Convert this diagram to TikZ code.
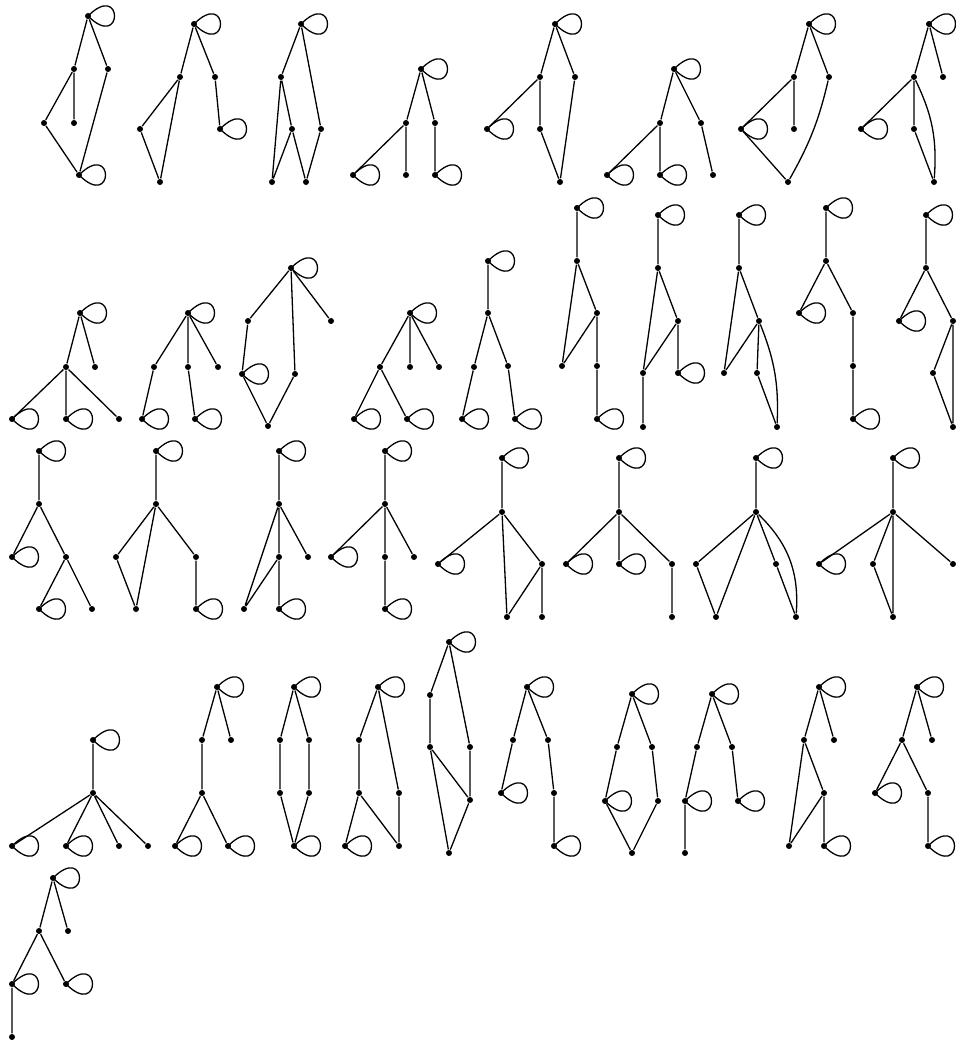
\documentclass[tikz,border=0pt]{standalone}
\begin{document}
\begin{tikzpicture}[x=1pt,y=-1pt,
  dot/.style={circle,fill=black,inner sep=0pt,minimum size=6pt},
  every path/.style={line width=1.3pt}]
\useasboundingbox (0,0) rectangle (956,1042);
\newcommand{\lop}[1]{\draw (#1.center) .. controls +(45:50) and +(-45:50) .. (#1.center);}
% ---- Graph 1
\node[dot] (a1) at (88,16) {}; \node[dot] (b1) at (74,69) {}; \node[dot] (c1) at (108,69) {};
\node[dot] (d1) at (44,123) {}; \node[dot] (e1) at (74,123) {}; \node[dot] (f1) at (79,175) {};
\draw (a1)--(b1) (a1)--(c1) (b1)--(d1) (b1)--(e1) (d1)--(f1) (c1)--(f1);
\lop{a1}\lop{f1}
% ---- Graph 2
\node[dot] (a2) at (194,24) {}; \node[dot] (b2) at (180,77) {}; \node[dot] (c2) at (215,77) {};
\node[dot] (d2) at (140,129) {}; \node[dot] (e2) at (220,129) {}; \node[dot] (f2) at (160,182) {};
\draw (a2)--(b2) (a2)--(c2) (b2)--(d2) (b2)--(f2) (d2)--(f2) (c2)--(e2);
\lop{a2}\lop{e2}
% ---- Graph 3
\node[dot] (a3) at (301,24) {}; \node[dot] (b3) at (281,77) {}; \node[dot] (c3) at (292,129) {};
\node[dot] (d3) at (321,129) {}; \node[dot] (e3) at (272,182) {}; \node[dot] (f3) at (306,182) {};
\draw (a3)--(b3) (a3)--(d3) (b3)--(e3) (b3)--(c3) (c3)--(e3) (c3)--(f3) (d3)--(f3);
\lop{a3}
% ---- Graph 4
\node[dot] (a4) at (421,69) {}; \node[dot] (b4) at (406,123) {}; \node[dot] (c4) at (435,123) {};
\node[dot] (d4) at (353,175) {}; \node[dot] (e4) at (406,175) {}; \node[dot] (f4) at (435,175) {};
\draw (a4)--(b4) (a4)--(c4) (b4)--(d4) (b4)--(e4) (c4)--(f4);
\lop{a4}\lop{d4}\lop{f4}
% ---- Graph 5
\node[dot] (a5) at (555,24) {}; \node[dot] (b5) at (540,77) {}; \node[dot] (c5) at (575,77) {};
\node[dot] (d5) at (487,129) {}; \node[dot] (e5) at (540,129) {}; \node[dot] (f5) at (560,182) {};
\draw (a5)--(b5) (a5)--(c5) (b5)--(d5) (b5)--(e5) (e5)--(f5) (c5)--(f5);
\lop{a5}\lop{d5}
% ---- Graph 6
\node[dot] (a6) at (674,69) {}; \node[dot] (b6) at (660,123) {}; \node[dot] (c6) at (701,123) {};
\node[dot] (d6) at (607,175) {}; \node[dot] (e6) at (660,175) {}; \node[dot] (f6) at (713,175) {};
\draw (a6)--(b6) (a6)--(c6) (b6)--(d6) (b6)--(e6) (c6)--(f6);
\lop{a6}\lop{d6}\lop{e6}
% ---- Graph 7
\node[dot] (a7) at (809,24) {}; \node[dot] (b7) at (794,77) {}; \node[dot] (c7) at (829,77) {};
\node[dot] (d7) at (741,129) {}; \node[dot] (e7) at (794,129) {}; \node[dot] (f7) at (788,182) {};
\draw (a7)--(b7) (a7)--(c7) (b7)--(d7) (b7)--(e7) (d7)--(f7);
\draw (c7) to[bend left=8] (f7);
\lop{a7}\lop{d7}
% ---- Graph 8
\node[dot] (a8) at (929,24) {}; \node[dot] (b8) at (914,77) {}; \node[dot] (c8) at (943,77) {};
\node[dot] (d8) at (861,129) {}; \node[dot] (e8) at (914,129) {}; \node[dot] (f8) at (934,182) {};
\draw (a8)--(b8) (a8)--(c8) (b8)--(d8) (b8)--(e8) (e8)--(f8);
\draw (b8) to[bend left=15] (f8);
\lop{a8}\lop{d8}
% ---- Graph 9
\node[dot] (a9) at (80,313) {}; \node[dot] (b9) at (66,367) {}; \node[dot] (c9) at (95,367) {};
\node[dot] (d9) at (12,419) {}; \node[dot] (e9) at (66,419) {}; \node[dot] (f9) at (119,419) {};
\draw (a9)--(b9) (a9)--(c9) (b9)--(d9) (b9)--(e9) (b9)--(f9);
\lop{a9}\lop{d9}\lop{e9}
% ---- Graph 10
\node[dot] (a10) at (188,313) {}; \node[dot] (b10) at (154,367) {}; \node[dot] (c10) at (188,367) {};
\node[dot] (d10) at (218,367) {}; \node[dot] (e10) at (142,419) {}; \node[dot] (f10) at (195,419) {};
\draw (a10)--(b10) (a10)--(c10) (a10)--(d10) (b10)--(e10) (c10)--(f10);
\lop{a10}\lop{e10}\lop{f10}
% ---- Graph 11
\node[dot] (a11) at (291,268) {}; \node[dot] (b11) at (248,321) {}; \node[dot] (c11) at (331,321) {};
\node[dot] (d11) at (242,374) {}; \node[dot] (e11) at (295,374) {}; \node[dot] (f11) at (268,426) {};
\draw (a11)--(b11) (a11)--(c11) (a11)--(e11) (b11)--(d11) (d11)--(f11) (e11)--(f11);
\lop{a11}\lop{d11}
% ---- Graph 12
\node[dot] (a12) at (410,313) {}; \node[dot] (b12) at (380,367) {}; \node[dot] (c12) at (410,367) {};
\node[dot] (d12) at (439,367) {}; \node[dot] (e12) at (354,419) {}; \node[dot] (f12) at (407,419) {};
\draw (a12)--(b12) (a12)--(c12) (a12)--(d12) (b12)--(e12) (b12)--(f12);
\lop{a12}\lop{e12}\lop{f12}
% ---- Graph 13
\node[dot] (a13) at (488,261) {}; \node[dot] (b13) at (488,313) {}; \node[dot] (c13) at (474,367) {};
\node[dot] (d13) at (508,366) {}; \node[dot] (e13) at (462,419) {}; \node[dot] (f13) at (515,419) {};
\draw (a13)--(b13) (b13)--(c13) (b13)--(d13) (c13)--(e13) (d13)--(f13);
\lop{a13}\lop{e13}\lop{f13}
% ---- Graph 14
\node[dot] (a14) at (577,208) {}; \node[dot] (b14) at (577,261) {}; \node[dot] (c14) at (597,313) {};
\node[dot] (d14) at (562,366) {}; \node[dot] (e14) at (597,366) {}; \node[dot] (f14) at (597,419) {};
\draw (a14)--(b14) (b14)--(c14) (b14)--(d14) (c14)--(d14) (c14)--(e14) (e14)--(f14);
\lop{a14}\lop{f14}
% ---- Graph 15
\node[dot] (a15) at (658,215) {}; \node[dot] (b15) at (658,268) {}; \node[dot] (c15) at (678,321) {};
\node[dot] (d15) at (643,373) {}; \node[dot] (e15) at (678,373) {}; \node[dot] (f15) at (643,427) {};
\draw (a15)--(b15) (b15)--(c15) (b15)--(d15) (c15)--(d15) (c15)--(e15) (d15)--(f15);
\lop{a15}\lop{e15}
% ---- Graph 16
\node[dot] (a16) at (739,215) {}; \node[dot] (b16) at (739,268) {}; \node[dot] (c16) at (759,321) {};
\node[dot] (d16) at (724,373) {}; \node[dot] (e16) at (757,373) {}; \node[dot] (f16) at (777,427) {};
\draw (a16)--(b16) (b16)--(c16) (b16)--(d16) (c16)--(d16) (c16)--(e16) (e16)--(f16);
\draw (c16) to[bend left=12] (f16);
\lop{a16}
% ---- Graph 17
\node[dot] (a17) at (826,208) {}; \node[dot] (b17) at (826,261) {}; \node[dot] (c17) at (799,313) {};
\node[dot] (d17) at (853,313) {}; \node[dot] (e17) at (853,366) {}; \node[dot] (f17) at (853,419) {};
\draw (a17)--(b17) (b17)--(c17) (b17)--(d17) (d17)--(e17) (e17)--(f17);
\lop{a17}\lop{c17}\lop{f17}
% ---- Graph 18
\node[dot] (a18) at (926,215) {}; \node[dot] (b18) at (926,268) {}; \node[dot] (c18) at (899,321) {};
\node[dot] (d18) at (953,321) {}; \node[dot] (e18) at (933,373) {}; \node[dot] (f18) at (953,427) {};
\draw (a18)--(b18) (b18)--(c18) (b18)--(d18) (d18)--(e18) (e18)--(f18) (d18)--(f18);
\lop{a18}\lop{c18}
% ---- Graph 19
\node[dot] (a19) at (39,451) {}; \node[dot] (b19) at (39,504) {}; \node[dot] (c19) at (12,557) {};
\node[dot] (d19) at (66,557) {}; \node[dot] (e19) at (39,609) {}; \node[dot] (f19) at (92,609) {};
\draw (a19)--(b19) (b19)--(c19) (b19)--(d19) (d19)--(e19) (d19)--(f19);
\lop{a19}\lop{c19}\lop{e19}
% ---- Graph 20
\node[dot] (a20) at (156,451) {}; \node[dot] (b20) at (156,504) {}; \node[dot] (c20) at (116,557) {};
\node[dot] (d20) at (196,557) {}; \node[dot] (e20) at (136,609) {}; \node[dot] (f20) at (196,609) {};
\draw (a20)--(b20) (b20)--(c20) (b20)--(e20) (c20)--(e20) (b20)--(d20) (d20)--(f20);
\lop{a20}\lop{f20}
% ---- Graph 21
\node[dot] (a21) at (279,451) {}; \node[dot] (b21) at (279,504) {}; \node[dot] (c21) at (279,557) {};
\node[dot] (d21) at (308,557) {}; \node[dot] (e21) at (244,609) {}; \node[dot] (f21) at (279,609) {};
\draw (a21)--(b21) (b21)--(c21) (b21)--(d21) (b21)--(e21) (c21)--(e21) (c21)--(f21);
\lop{a21}\lop{f21}
% ---- Graph 22
\node[dot] (a22) at (385,451) {}; \node[dot] (b22) at (385,504) {}; \node[dot] (c22) at (331,557) {};
\node[dot] (d22) at (385,557) {}; \node[dot] (e22) at (414,557) {}; \node[dot] (f22) at (385,609) {};
\draw (a22)--(b22) (b22)--(c22) (b22)--(d22) (b22)--(e22) (d22)--(f22);
\lop{a22}\lop{c22}\lop{f22}
% ---- Graph 23
\node[dot] (a23) at (502,458) {}; \node[dot] (b23) at (502,512) {}; \node[dot] (c23) at (438,564) {};
\node[dot] (d23) at (542,564) {}; \node[dot] (e23) at (507,617) {}; \node[dot] (f23) at (542,617) {};
\draw (a23)--(b23) (b23)--(c23) (b23)--(e23) (b23)--(d23) (d23)--(e23) (d23)--(f23);
\lop{a23}\lop{c23}
% ---- Graph 24
\node[dot] (a24) at (619,458) {}; \node[dot] (b24) at (619,512) {}; \node[dot] (c24) at (566,564) {};
\node[dot] (d24) at (619,564) {}; \node[dot] (e24) at (672,564) {}; \node[dot] (f24) at (672,617) {};
\draw (a24)--(b24) (b24)--(c24) (b24)--(d24) (b24)--(e24) (e24)--(f24);
\lop{a24}\lop{c24}\lop{d24}
% ---- Graph 25
\node[dot] (a25) at (756,458) {}; \node[dot] (b25) at (756,512) {}; \node[dot] (c25) at (696,564) {};
\node[dot] (d25) at (776,564) {}; \node[dot] (e25) at (716,617) {}; \node[dot] (f25) at (796,617) {};
\draw (a25)--(b25) (b25)--(c25) (b25)--(e25) (c25)--(e25) (b25)--(d25) (d25)--(f25);
\draw (b25) to[bend left=25] (f25);
\lop{a25}
% ---- Graph 26
\node[dot] (a26) at (893,458) {}; \node[dot] (b26) at (893,512) {}; \node[dot] (c26) at (819,564) {};
\node[dot] (d26) at (873,564) {}; \node[dot] (e26) at (953,564) {}; \node[dot] (f26) at (893,617) {};
\draw (a26)--(b26) (b26)--(c26) (b26)--(d26) (b26)--(f26) (b26)--(e26) (d26)--(f26);
\lop{a26}\lop{c26}
% ---- Graph 27
\node[dot] (a27) at (93,740) {}; \node[dot] (b27) at (93,793) {}; \node[dot] (c27) at (12,846) {};
\node[dot] (d27) at (66,846) {}; \node[dot] (e27) at (119,846) {}; \node[dot] (f27) at (148,846) {};
\draw (a27)--(b27) (b27)--(c27) (b27)--(d27) (b27)--(e27) (b27)--(f27);
\lop{a27}\lop{c27}\lop{d27}
% ---- Graph 28
\node[dot] (a28) at (217,687) {}; \node[dot] (b28) at (202,740) {}; \node[dot] (c28) at (231,740) {};
\node[dot] (d28) at (202,793) {}; \node[dot] (e28) at (175,846) {}; \node[dot] (f28) at (228,846) {};
\draw (a28)--(b28) (a28)--(c28) (b28)--(d28) (d28)--(e28) (d28)--(f28);
\lop{a28}\lop{e28}\lop{f28}
% ---- Graph 29
\node[dot] (a29) at (294,687) {}; \node[dot] (b29) at (280,740) {}; \node[dot] (c29) at (309,740) {};
\node[dot] (d29) at (280,793) {}; \node[dot] (e29) at (309,793) {}; \node[dot] (f29) at (294,846) {};
\draw (a29)--(b29) (a29)--(c29) (b29)--(d29) (c29)--(e29) (d29)--(f29) (e29)--(f29);
\lop{a29}\lop{f29}
% ---- Graph 30
\node[dot] (a30) at (378,687) {}; \node[dot] (b30) at (359,740) {}; \node[dot] (c30) at (359,793) {};
\node[dot] (d30) at (399,793) {}; \node[dot] (e30) at (345,846) {}; \node[dot] (f30) at (399,846) {};
\draw (a30)--(b30) (a30)--(d30) (b30)--(c30) (c30)--(e30) (c30)--(f30) (d30)--(f30);
\lop{a30}\lop{e30}
% ---- Graph 31
\node[dot] (a31) at (449,642) {}; \node[dot] (b31) at (430,695) {}; \node[dot] (c31) at (430,747) {};
\node[dot] (d31) at (470,747) {}; \node[dot] (e31) at (470,800) {}; \node[dot] (f31) at (449,853) {};
\draw (a31)--(b31) (a31)--(d31) (b31)--(c31) (c31)--(e31) (d31)--(e31) (c31)--(f31) (e31)--(f31);
\lop{a31}
% ---- Graph 32
\node[dot] (a32) at (527,687) {}; \node[dot] (b32) at (513,740) {}; \node[dot] (c32) at (548,740) {};
\node[dot] (d32) at (501,793) {}; \node[dot] (e32) at (554,793) {}; \node[dot] (f32) at (554,846) {};
\draw (a32)--(b32) (a32)--(c32) (b32)--(d32) (c32)--(e32) (e32)--(f32);
\lop{a32}\lop{d32}\lop{f32}
% ---- Graph 33
\node[dot] (a33) at (632,694) {}; \node[dot] (b33) at (617,747) {}; \node[dot] (c33) at (652,747) {};
\node[dot] (d33) at (605,801) {}; \node[dot] (e33) at (658,801) {}; \node[dot] (f33) at (632,853) {};
\draw (a33)--(b33) (a33)--(c33) (b33)--(d33) (c33)--(e33) (d33)--(f33) (e33)--(f33);
\lop{a33}\lop{d33}
% ---- Graph 34
\node[dot] (a34) at (712,694) {}; \node[dot] (b34) at (697,747) {}; \node[dot] (c34) at (732,747) {};
\node[dot] (d34) at (685,801) {}; \node[dot] (e34) at (738,801) {}; \node[dot] (f34) at (685,853) {};
\draw (a34)--(b34) (a34)--(c34) (b34)--(d34) (c34)--(e34) (d34)--(f34);
\lop{a34}\lop{d34}\lop{e34}
% ---- Graph 35
\node[dot] (a35) at (819,687) {}; \node[dot] (b35) at (804,740) {}; \node[dot] (c35) at (834,740) {};
\node[dot] (d35) at (824,793) {}; \node[dot] (e35) at (789,846) {}; \node[dot] (f35) at (824,846) {};
\draw (a35)--(b35) (a35)--(c35) (b35)--(d35) (b35)--(e35) (d35)--(e35) (d35)--(f35);
\lop{a35}\lop{f35}
% ---- Graph 36
\node[dot] (a36) at (917,687) {}; \node[dot] (b36) at (902,740) {}; \node[dot] (c36) at (932,740) {};
\node[dot] (d36) at (875,793) {}; \node[dot] (e36) at (928,793) {}; \node[dot] (f36) at (928,846) {};
\draw (a36)--(b36) (a36)--(c36) (b36)--(d36) (b36)--(e36) (e36)--(f36);
\lop{a36}\lop{d36}\lop{f36}
% ---- Graph 37
\node[dot] (a37) at (53,878) {}; \node[dot] (b37) at (39,931) {}; \node[dot] (c37) at (68,931) {};
\node[dot] (d37) at (12,984) {}; \node[dot] (e37) at (66,984) {}; \node[dot] (f37) at (12,1037) {};
\draw (a37)--(b37) (a37)--(c37) (b37)--(d37) (b37)--(e37) (d37)--(f37);
\lop{a37}\lop{d37}\lop{e37}
\end{tikzpicture}
\end{document}
